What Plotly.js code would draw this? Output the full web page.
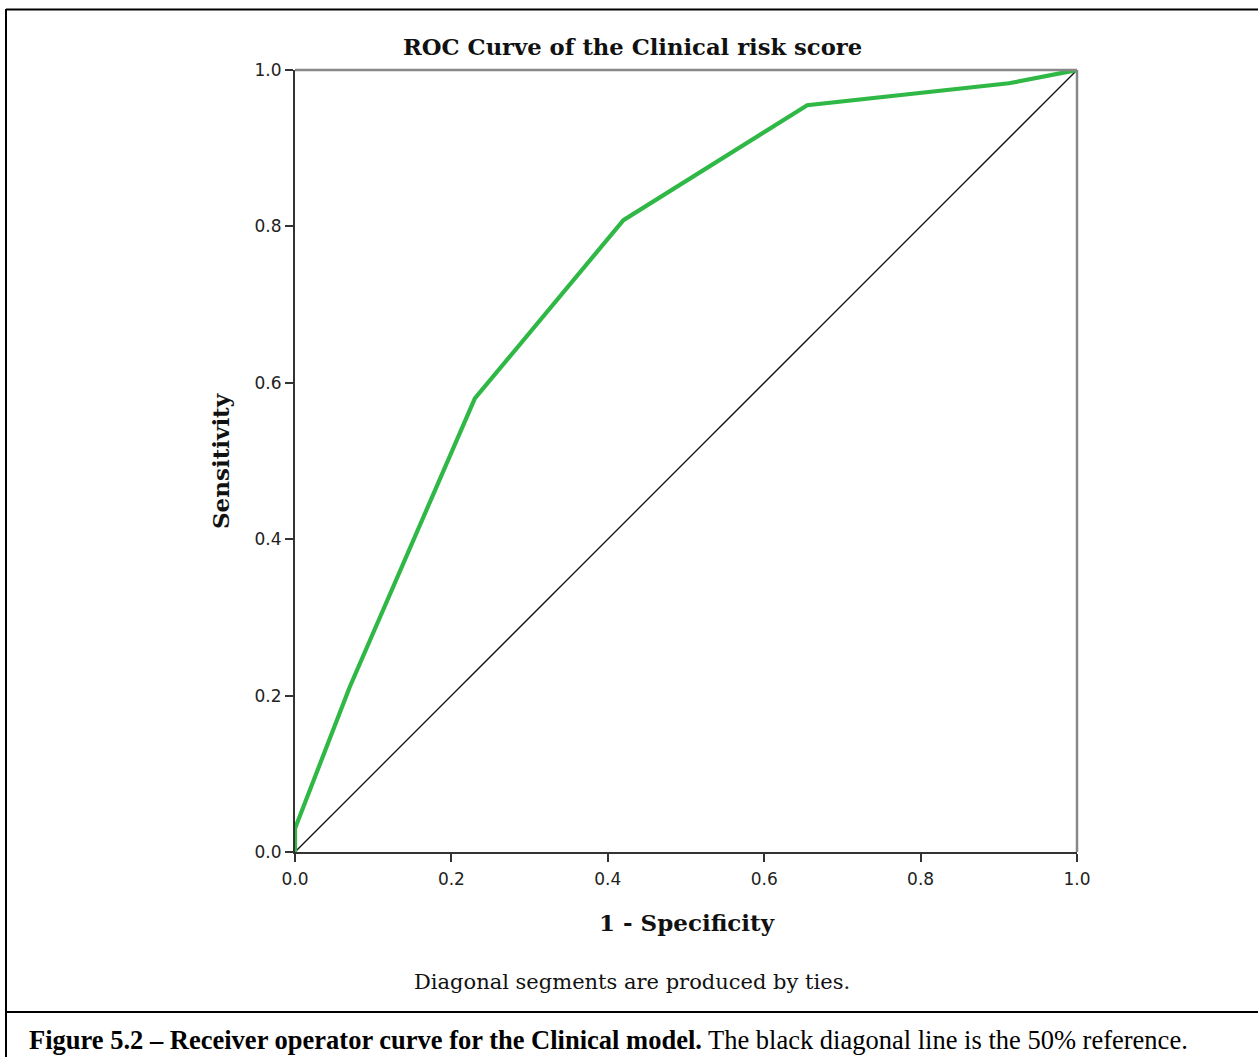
<!DOCTYPE html>
<html>
<head>
<meta charset="utf-8">
<script src="https://cdn.plot.ly/plotly-3.0.1.min.js"></script>
<style>
html, body { margin: 0; padding: 0; background: #fff; }
#chart { width: 1258px; height: 1057px; }
</style>
</head>
<body>
<div id="chart"></div>
<script>
// ROC curve data (1 - Specificity, Sensitivity)
const rocFPR = [0, 0, 0.070, 0.230, 0.420, 0.655, 0.913, 1.0];
const rocTPR = [0, 0.030, 0.211, 0.580, 0.808, 0.955, 0.983, 1.0];
// Reference line
const refX = [0, 1];
const refY = [0, 1];
const tickVals = [0, 0.2, 0.4, 0.6, 0.8, 1.0];
const tickText = ["0.0", "0.2", "0.4", "0.6", "0.8", "1.0"];

const chartTitle = "ROC Curve of the Clinical risk score";
const xTitle = "1 - Specificity";
const yTitle = "Sensitivity";
const footNote = "Diagonal segments are produced by ties.";
const captionBold = "Figure 5.2 \u2013 Receiver operator curve for the Clinical model.";
const captionRest = " The black diagonal line is the 50% reference.";

const W = 1258, H = 1057;
const L = 295, R = 1077, T = 70, B = 852;
const pw = R - L, ph = B - T;
const px = v => (v - L) / pw;
const py = v => (B - v) / ph;

const traces = [
  {x: refX, y: refY, mode: 'lines', line: {color: '#111', width: 1.3}, hoverinfo: 'skip'},
  {x: rocFPR, y: rocTPR, mode: 'lines', line: {color: '#2fb845', width: 4.2}, hoverinfo: 'skip'}
];

const serif = 'DejaVu Serif, serif';
const layout = {
  width: W, height: H,
  margin: {l: L, r: W - R, t: T, b: H - B, pad: 0},
  paper_bgcolor: '#fff', plot_bgcolor: '#fff',
  showlegend: false,
  xaxis: {
    range: [0, 1], tickvals: tickVals, ticktext: tickText,
    showgrid: false, zeroline: false, showline: true, linecolor: '#333', linewidth: 2,
    ticks: 'outside', ticklen: 8, tickwidth: 2, tickcolor: '#333', ticklabelstandoff: 3,
    tickfont: {family: 'DejaVu Sans, sans-serif', size: 17, color: '#222'},
    fixedrange: true
  },
  yaxis: {
    range: [0, 1], tickvals: tickVals, ticktext: tickText,
    showgrid: false, zeroline: false, showline: true, linecolor: '#333', linewidth: 2,
    ticks: 'outside', ticklen: 8, tickwidth: 2, tickcolor: '#333',
    tickfont: {family: 'DejaVu Sans, sans-serif', size: 17, color: '#222'},
    fixedrange: true
  },
  shapes: [
    // top and right frame (gray)
    {type: 'line', xref: 'paper', yref: 'paper', x0: 0, x1: 1, y0: 1, y1: 1, line: {color: '#888', width: 2.5}},
    {type: 'line', xref: 'paper', yref: 'paper', x0: 1, x1: 1, y0: 0, y1: 1, line: {color: '#888', width: 2.5}},
    // outer figure border
    {type: 'line', xref: 'paper', yref: 'paper', x0: px(6), x1: px(1260), y0: py(9.5), y1: py(9.5), line: {color: '#000', width: 2}},
    {type: 'line', xref: 'paper', yref: 'paper', x0: px(6), x1: px(6), y0: py(9), y1: py(1060), line: {color: '#000', width: 2}},
    {type: 'line', xref: 'paper', yref: 'paper', x0: px(6), x1: px(1260), y0: py(1012), y1: py(1012), line: {color: '#000', width: 2}}
  ],
  annotations: [
    {text: '<b>' + chartTitle + '</b>', xref: 'paper', yref: 'paper', x: px(632), y: py(47), showarrow: false,
     xanchor: 'center', yanchor: 'middle', font: {family: serif, size: 22.7, color: '#111'}},
    {text: '<b>' + xTitle + '</b>', xref: 'paper', yref: 'paper', x: px(687), y: py(922), showarrow: false,
     xanchor: 'center', yanchor: 'middle', font: {family: serif, size: 23, color: '#111'}},
    {text: '<b>' + yTitle + '</b>', xref: 'paper', yref: 'paper', x: px(220), y: py(461), showarrow: false,
     textangle: -90, xanchor: 'center', yanchor: 'middle', font: {family: serif, size: 23, color: '#111'}},
    {text: footNote, xref: 'paper', yref: 'paper', x: px(632), y: py(982), showarrow: false,
     xanchor: 'center', yanchor: 'middle', font: {family: serif, size: 21, color: '#111'}},
    {text: '<b>' + captionBold + '</b>' + captionRest, xref: 'paper', yref: 'paper', x: px(27), y: py(1040), showarrow: false,
     xanchor: 'left', yanchor: 'middle', font: {family: 'Liberation Serif, Times New Roman, serif', size: 26.5, color: '#000'}}
  ]
};

Plotly.newPlot('chart', traces, layout, {staticPlot: true, displayModeBar: false});
</script>
</body>
</html>
